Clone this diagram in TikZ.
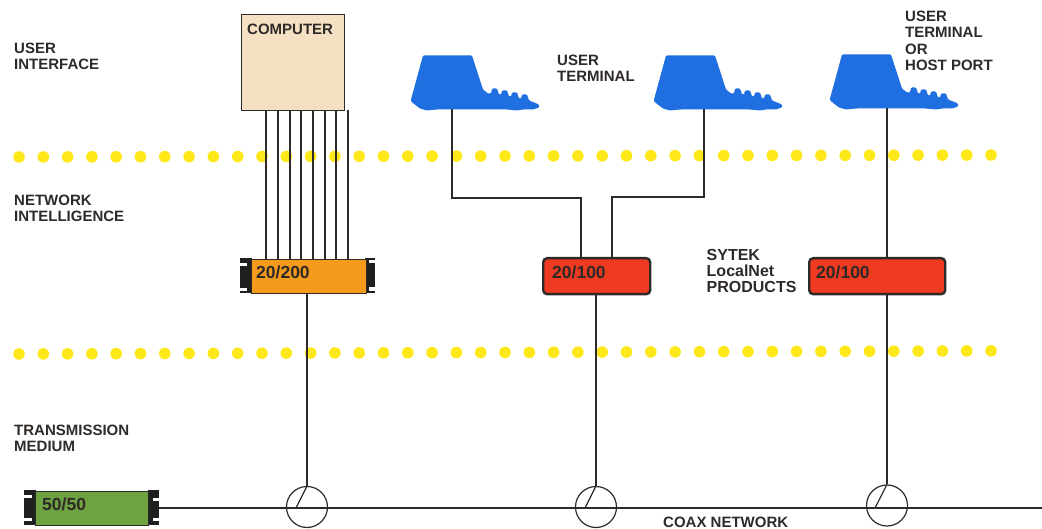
\documentclass[tikz,border=0pt]{standalone}
\usepackage{fontspec}
\setmainfont{Liberation Sans}
\definecolor{red0}{HTML}{EF3A22}
\definecolor{orange0}{HTML}{F59B1B}
\definecolor{green0}{HTML}{6FA342}
\definecolor{blue0}{HTML}{1F6FE0}
\definecolor{yellow0}{HTML}{FFE81A}
\definecolor{beige0}{HTML}{F6E0C4}
\definecolor{ink}{HTML}{2E2A28}
\tikzset{
  x=1pt,y=-1pt,
  lbl/.style={font=\fontsize{15}{15.5}\selectfont\bfseries,align=left,anchor=north west,inner sep=0pt,text=ink},
  lblwide/.style={lbl,font=\fontsize{15}{16.3}\selectfont\bfseries},
  lblbig/.style={lbl,font=\fontsize{16}{16}\selectfont\bfseries},
  wire/.style={draw=ink,line width=1.2pt},
  unitlbl/.style={font=\fontsize{17.5}{17.5}\selectfont\bfseries,text=ink,anchor=west,inner sep=0pt},
  redbox/.style={draw=ink,line width=2.4pt,rounded corners=4pt,fill=red0,inner sep=0pt,anchor=north west},
  rackbox/.style={draw=ink,line width=1pt,inner sep=0pt,anchor=north west},
  tap/.style={circle,draw=ink,line width=1.2pt,minimum size=41pt,inner sep=0pt},
  ear/.style={fill=black!88,draw=none},
  dot/.style={fill=yellow0,draw=none},
  pics/term/.style={code={
    \fill[blue0,rounded corners=1pt] (12,0) -- (61,0) -- (72,34) -- (77,38) -- (80,38) -- (81,33) -- (86,33) -- (88,39)
      -- (90,39) -- (91,35) -- (96,35) -- (98,41) -- (100,41) -- (101,37) -- (106,37) -- (108,43) -- (110,43) -- (111,39) -- (116,39) -- (118,45)
      -- (128,49) -- (128,52) -- (122,54) -- (112,54) -- (106,55) -- (96,54) -- (26,54) -- (16,55) -- (9,53) -- (0,46) -- (0,44) -- cycle;
  }}
}
\begin{document}
\begin{tikzpicture}
\useasboundingbox (0,0) rectangle (1042,529);
% dotted bands
\foreach \i in {0,...,40} {
  \fill[dot] ({19+24.3*\i},{157-0.05*\i}) circle (5.8);
  \fill[dot] ({19+24.3*\i},{354-0.08*\i}) circle (5.8);
}
% computer
\node[draw=ink,line width=1.2pt,fill=beige0,minimum width=103pt,minimum height=96pt,inner sep=0pt,anchor=north west] (comp) at (241,14) {};
\node[lbl] (complbl) at (247,24) {COMPUTER};
% terminals
\pic at (411,55.5) {term};
\pic at (654,55.5) {term};
\pic at (830,54.5) {term};
\coordinate (t1) at (452,109);
\coordinate (t2) at (704,109);
\coordinate (t3) at (887,108);
% units
\fill[ear] (240,258) rectangle (252,293);
\fill[ear] (365,258) rectangle (375,293);
\fill[white] (240,263) rectangle (247,266);
\fill[white] (240,288) rectangle (247,291.5);
\fill[white] (369,260) rectangle (375,263.5);
\fill[white] (369,287.5) rectangle (375,291);
\node[rackbox,fill=orange0,minimum width=115pt,minimum height=34pt] (u1) at (251,259) {};
\node[unitlbl] (u1l) at (256,272) {20/200};
\node[redbox,minimum width=107pt,minimum height=36pt] (u2) at (542,257) {};
\node[unitlbl] (u2l) at (552,272) {20/100};
\node[redbox,minimum width=136pt,minimum height=36pt] (u3) at (808,257) {};
\node[unitlbl] (u3l) at (816,272) {20/100};
\fill[ear] (24,490) rectangle (36,525);
\fill[ear] (148,490) rectangle (159,525);
\fill[white] (24,495) rectangle (32,498);
\fill[white] (24,518) rectangle (32,521);
\fill[white] (153,498) rectangle (159,501);
\fill[white] (153,518) rectangle (159,521);
\node[rackbox,fill=green0,minimum width=113pt,minimum height=34pt] (u4) at (35,491) {};
\node[unitlbl] (u4l) at (42,504) {50/50};
% taps
\node[tap] (c1) at (307,507) {};
\node[tap] (c2) at (596,507) {};
\node[tap] (c3) at (887,505.5) {};
% wires
\foreach \x in {266,278,290,301,313,325,336,348}
  \draw[wire] (\x,110) -- (\x,259);
\draw[wire] (t1) |- (581,198) -- (581,257);
\draw[wire] (t2) |- (612,197) -- (612,257);
\draw[wire] (t3) -- (887,257);
\draw[wire] (307,293) -- (c1.north);
\draw[wire] (596,293) -- (c2.north);
\draw[wire] (887,293) -- (c3.north);
\coordinate (coaxend) at (1042,508);
\draw[wire] (159,508) -- (coaxend);
\draw[wire] (296,508) -- (c1.north);
\draw[wire] (585,508) -- (c2.north);
\draw[wire] (875,508) -- (c3.north);
% labels
\node[lbl] (a) at (14,43) {USER\\INTERFACE};
\node[lbl] (b) at (14,195) {NETWORK\\INTELLIGENCE};
\node[lbl] (d) at (14,425) {TRANSMISSION\\MEDIUM};
\node[lbl] (e) at (557,55) {USER\\TERMINAL};
\node[lblwide] (f) at (905,11) {USER\\TERMINAL\\OR\\HOST PORT};
\node[lblbig] (g) at (706.5,249.5) {SYTEK\\LocalNet\\PRODUCTS};
\node[lbl] (h) at (663,517) {COAX NETWORK};
\end{tikzpicture}
\end{document}
